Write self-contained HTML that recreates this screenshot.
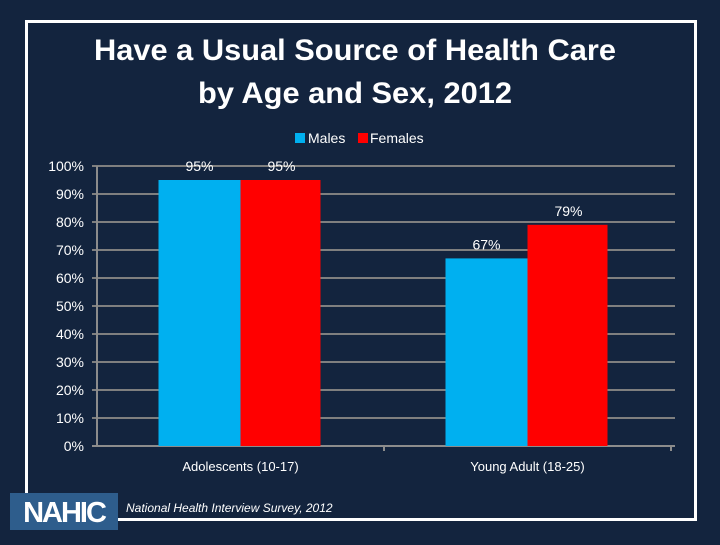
<!DOCTYPE html>
<html><head><meta charset="utf-8"><style>
body{margin:0;width:720px;height:540px;background:#13243e;overflow:hidden;font-family:"Liberation Sans",sans-serif;}
</style></head><body>
<svg width="720" height="540">
<rect x="26.5" y="21.5" width="669" height="498" fill="none" stroke="#fff" stroke-width="3"/>
<text x="355" y="60" fill="#fff" font-size="30" font-weight="bold" text-anchor="middle" textLength="522" lengthAdjust="spacingAndGlyphs">Have a Usual Source of Health Care</text>
<text x="355" y="103" fill="#fff" font-size="30" font-weight="bold" text-anchor="middle" textLength="314" lengthAdjust="spacingAndGlyphs">by Age and Sex, 2012</text>
<g>
<rect x="295" y="133" width="10" height="10" fill="#00b0f0"/>
<text x="308" y="143" fill="#fff" font-size="14">Males</text>
<rect x="358" y="133" width="10" height="10" fill="#ff0000"/>
<text x="370" y="143" fill="#fff" font-size="14">Females</text>
</g>
<g id="plot"></g>
<rect x="10" y="493" width="108" height="37" fill="#2e5d8c"/>
<text x="64" y="522" fill="#fff" font-size="29" font-weight="bold" text-anchor="middle" letter-spacing="-2">NAHIC</text>
<text x="126" y="512" fill="#fff" font-size="12" font-style="italic">National Health Interview Survey, 2012</text>
</svg>
<script>
const categories=["Adolescents (10-17)","Young Adult (18-25)"];
const males=[95,67];
const females=[95,79];
const ticks=[0,10,20,30,40,50,60,70,80,90,100];
const NS="http://www.w3.org/2000/svg";
const g=document.getElementById('plot');
const x0=97,x1=671,y0=446,y100=166;
const y=v=>y0-(v/100)*(y0-y100);
const bw=(x1-x0)/categories.length;
function mk(t,a,txt){const e=document.createElementNS(NS,t);for(const k in a)e.setAttribute(k,a[k]);if(txt!=null)e.textContent=txt;g.appendChild(e);return e;}
ticks.forEach(t=>{
 const l=mk('line',{x1:x0-5,x2:x1+4,y1:y(t),y2:y(t),stroke:t===0?'#8c8c8c':'#7f7f7f','stroke-width':2});
 
 
 const tx=mk('text',{x:84,y:y(t)+5,fill:'#fff','font-size':14,'text-anchor':'end'},t+'%');
 
 
});
const ax=mk('line',{x1:x0,x2:x0,y1:y100,y2:y0,stroke:'#8c8c8c','stroke-width':2});


categories.forEach((c,i)=>{
 const cx=x0+bw*(i+0.5);
 const w=82;
 [[males[i],'#00b0f0','male',cx-w],[females[i],'#ff0000','female',cx]].forEach(([v,col,s,bx])=>{
  const r=mk('rect',{x:bx,y:y(v),width:(s==='male'?w:w-2),height:y0-y(v),fill:col});
  
  
  const t=mk('text',{x:bx+41,y:y(v)-9,fill:'#fff','font-size':14,'text-anchor':'middle'},v+'%');
  
  
 });
 const ct=mk('text',{x:cx,y:471,fill:'#fff','font-size':13,'text-anchor':'middle'},c);
 
 
 const tk=mk('line',{x1:x0+bw*(i+1),x2:x0+bw*(i+1),y1:y0,y2:y0+5,stroke:'#8c8c8c','stroke-width':2});
 
 
});
</script>
</body></html>
